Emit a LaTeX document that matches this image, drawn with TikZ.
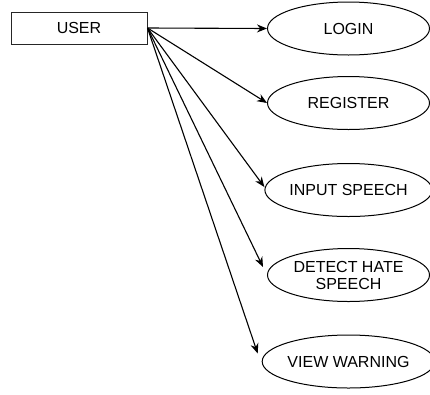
\documentclass[tikz,border=0pt]{standalone}
\usepackage{fontspec}
\setmainfont{Liberation Sans}
\usetikzlibrary{shapes.geometric,arrows.meta,calc}
\begin{document}
\begin{tikzpicture}[x=1pt,y=-1pt,
  actor/.style={draw=black!85,line width=1pt,minimum width=136pt,minimum height=32pt,inner sep=0pt,font=\fontsize{16}{17}\selectfont},
  usecase/.style={draw,ellipse,line width=1pt,minimum width=162pt,minimum height=53pt,inner sep=0pt,align=center,font=\fontsize{16}{17}\selectfont},
  link/.style={line width=1.1pt,-{Stealth[length=10pt,width=8pt]}}]
\useasboundingbox (0,0) rectangle (430,394);
\node[actor] (user) at (79,28) {USER};
\node[usecase] (login) at (348.5,28.5) {LOGIN};
\node[usecase] (reg) at (348.5,103) {REGISTER};
\node[usecase] (inp) at (348.5,190) {INPUT SPEECH};
\node[usecase] (det) at (348.5,275) {DETECT HATE\\SPEECH};
\node[usecase] (warn) at (348.5,361.5) {VIEW WARNING};
\coordinate (detend) at ($(det.west)+(-4,-8)$);
\coordinate (warnend) at ($(warn.west)+(-4,-8)$);
\draw[link] (user.east) -- (login.west);
\draw[link] (user.east) -- (reg.west);
\draw[link] (user.east) -- ($(inp.west)+(0,-3)$);
\draw[link] (user.east) -- (detend);
\draw[link] (user.east) -- (warnend);
\end{tikzpicture}
\end{document}
